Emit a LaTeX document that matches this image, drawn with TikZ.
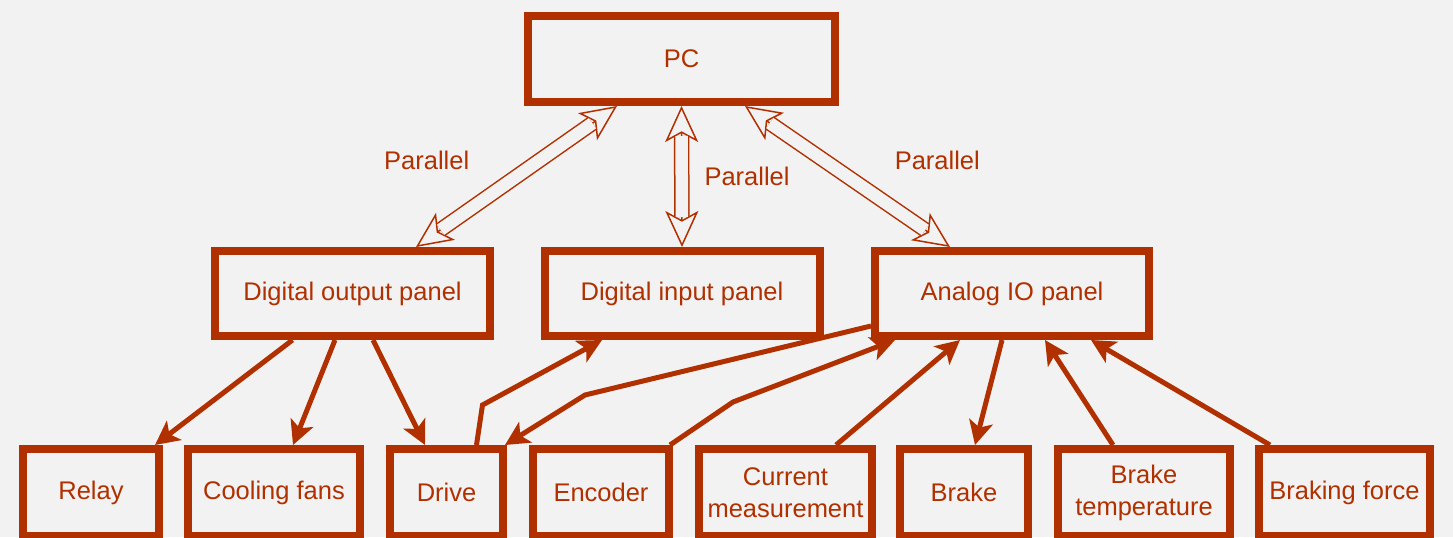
\documentclass[tikz,border=0pt]{standalone}
\usepackage{fontspec}
\setmainfont{Liberation Sans}
\usetikzlibrary{%
        arrows.meta,
        positioning}
\definecolor{rust}{RGB}{176,48,0}
\definecolor{bgc}{RGB}{242,242,242}
\tikzset{%
    box/.style={draw=rust, line width=4pt, text=rust, align=center,
        minimum height=#1, inner sep=0},
    box/.default=42.5pt,
    arr/.style={draw=rust, line width=2.5pt,
        -{Stealth[length=12pt, width=12pt, inset=3pt]}},
    hollowtip/.tip={Stealth[fill=bgc, length=18pt, width=16.5pt, inset=4.5pt]},
    dblarr/.style={draw=rust, line width=0.75pt, hollowtip-hollowtip,
        postaction={draw=rust, -, double=bgc, double distance=6.25pt,
        shorten <=15pt, shorten >=15pt}},
    lbl/.style={text=rust, inner sep=0}
}

\begin{document}
\begin{tikzpicture}[x=0.5pt, y=-0.5pt,
    every node/.style={font=\fontsize{12.75}{16}\selectfont}]

    \useasboundingbox (0, 0) rectangle (1453, 537);
    \fill[bgc] (0, 0) rectangle (1453, 537);

    % computer and panels
    \node[box=43pt, minimum width=153.5pt] (pc) at (681.5, 59) {PC};
    \node[box, minimum width=137.5pt] (dout) at (352.5, 293.5)
        {Digital output panel};
    \node[box, minimum width=137.5pt] (din) at (682, 293.5)
        {Digital input panel};
    \node[box, minimum width=137pt] (aio) at (1012, 293.5)
        {Analog IO panel};

    % devices
    \node[box=43.5pt, minimum width=68pt] (relay) at (91, 492.5) {Relay};
    \node[box=43.5pt, minimum width=86pt] (fans) at (274, 492.5)
        {Cooling fans};
    \node[box=43.5pt, minimum width=56.5pt] (drive) at (446.5, 492.5)
        {Drive};
    \node[box=43.5pt, minimum width=68pt] (encoder) at (601, 492.5)
        {Encoder};
    \node[box=43.5pt, minimum width=86.5pt] (current) at (785.5, 492.5)
        {Current\\measurement};
    \node[box=43.5pt, minimum width=64pt] (brake) at (964, 492.5) {Brake};
    \node[box=43.5pt, minimum width=86pt] (btemp) at (1144, 492.5)
        {Brake\\temperature};
    \node[box=43.5pt, minimum width=85.5pt] (bforce) at (1344.5, 492.5)
        {Braking force};

    % parallel links
    \draw[dblarr] ([xshift=-32.25pt] pc.south) --
        ([xshift=31.75pt] dout.north)
        node[lbl, midway, left=23.25pt, yshift=8.25pt] {Parallel};
    \draw[dblarr] (pc.south) -- (din.north)
        node[lbl, midway, right=11pt] {Parallel};
    \draw[dblarr] ([xshift=31.75pt] pc.south) --
        ([xshift=-31pt] aio.north)
        node[lbl, midway, right=23.25pt, yshift=8.25pt] {Parallel};

    % outputs
    \draw[arr] ([xshift=-30pt] dout.south) -- ([xshift=32pt] relay.north);
    \draw[arr] ([xshift=-8.75pt] dout.south) -- ([xshift=9.5pt] fans.north);
    \draw[arr] ([xshift=10.25pt] dout.south) --
        ([xshift=-10.75pt] drive.north);
    \draw[arr] ([xshift=15pt] drive.north) -- ++(3pt, 20pt) --
        ([xshift=-40pt] din.south);
    \draw[arr] ([yshift=7pt] aio.south west) -- ++(-143pt, -34.5pt) --
        ([xshift=-1pt] drive.north east);
    \draw[arr] ([xshift=-1.5pt] encoder.north east) -- ++(31.5pt, 21.5pt) --
        ([xshift=-58.5pt] aio.south);
    \draw[arr] ([xshift=25.25pt] current.north) --
        ([xshift=-26pt] aio.south);
    \draw[arr] ([xshift=-5pt] aio.south) -- ([xshift=5.5pt] brake.north);
    \draw[arr] ([xshift=-15.5pt] btemp.north) -- ([xshift=16.5pt] aio.south);
    \draw[arr] ([xshift=-37.25pt] bforce.north) --
        ([xshift=39.5pt] aio.south);

\end{tikzpicture}
\end{document}
